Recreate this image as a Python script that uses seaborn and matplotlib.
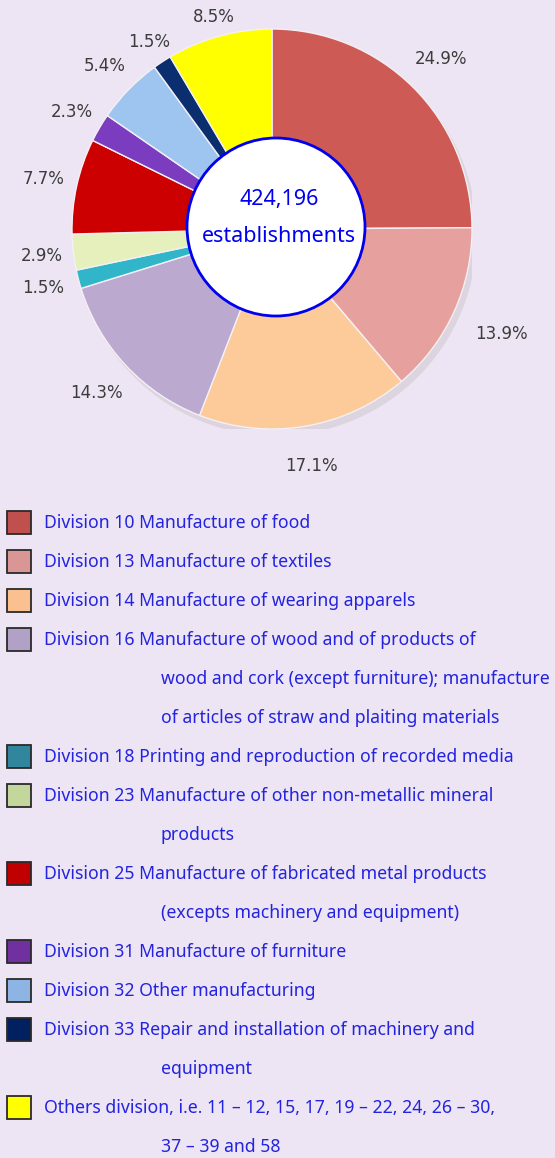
import matplotlib
matplotlib.use("Agg")
import matplotlib.pyplot as plt
from matplotlib.patches import Circle, Rectangle
import numpy as np
import seaborn as sns

# Data
shares = [24.9, 13.9, 17.1, 14.3, 1.5, 2.9, 7.7, 2.3, 5.4, 1.5, 8.5]
pie_colors = ['#CD5A55', '#E6A19E', '#FDCB99', '#BBA9D0', '#31B5C8', '#E6F0BC',
              '#CC0000', '#7B3CC0', '#9EC5F0', '#0A2E6E', '#FFFF00']
legend_colors = ['#C0504D', '#D99694', '#FAC090', '#B2A1C7', '#31859C', '#C3D69B',
                 '#C00000', '#7030A0', '#8EB4E3', '#002060', '#FFFF00']
legend_lines = [
    ["Division 10 Manufacture of food"],
    ["Division 13 Manufacture of textiles"],
    ["Division 14 Manufacture of wearing apparels"],
    ["Division 16 Manufacture of wood and of products of",
     "wood and cork (except furniture); manufacture",
     "of articles of straw and plaiting materials"],
    ["Division 18 Printing and reproduction of recorded media"],
    ["Division 23 Manufacture of other non-metallic mineral",
     "products"],
    ["Division 25 Manufacture of fabricated metal products",
     "(excepts machinery and equipment)"],
    ["Division 31 Manufacture of furniture"],
    ["Division 32 Other manufacturing"],
    ["Division 33 Repair and installation of machinery and",
     "equipment"],
    ["Others division, i.e. 11 \u2013 12, 15, 17, 19 \u2013 22, 24, 26 \u2013 30,",
     "37 \u2013 39 and 58"],
]
total_text = ["424,196", "establishments"]

# label distance from centre (in pie radii), layout only
label_dist = [1.2, 1.26, 1.2, 1.2, 1.18, 1.16, 1.17, 1.16, 1.17, 1.12, 1.1]

bg = '#EDE5F3'
blue = '#2323E0'

sns.set_style('white', {'axes.facecolor': bg, 'figure.facecolor': bg})
plt.rcParams['font.family'] = ['Noto Sans', 'DejaVu Sans']

W, H = 555, 1158
fig = plt.figure(figsize=(W / 100, H / 100), dpi=100)
fig.patch.set_facecolor(bg)

# Pie
cx, cy, r = 272, 229, 200
ax = fig.add_axes([(cx - r) / W, (H - cy - r) / H, 2 * r / W, 2 * r / H])
ax.set_facecolor('none')
ax.add_patch(Circle((0.02, -0.03), 1.0, color='#dcd5e0', zorder=0))
wedges, texts, autotexts = ax.pie(
    shares, colors=pie_colors, startangle=90, counterclock=False,
    autopct='%.1f%%', pctdistance=1.18,
    wedgeprops=dict(edgecolor='#f4f0f4', linewidth=1.0),
    textprops=dict(color='#3c3c3c', fontsize=12, family='DejaVu Sans'))
for w, t, d in zip(wedges, autotexts, label_dist):
    mid = np.deg2rad((w.theta1 + w.theta2) / 2)
    t.set_position((d * np.cos(mid), d * np.sin(mid)))
    t.set_clip_on(False)
ax.add_patch(Circle((0.02, 0.01), 0.445, facecolor='white', edgecolor='#0000EE',
                    linewidth=2.0, zorder=5))
ax.text(0.035, 0.145, total_text[0], ha='center', va='center', color='#0000EE',
        fontsize=15.5, fontweight='semibold', zorder=6)
ax.text(0.035, -0.035, total_text[1], ha='center', va='center', color='#0000EE',
        fontsize=15.5, fontweight='semibold', zorder=6)
ax.set_xlim(-1, 1)
ax.set_ylim(-1, 1)
ax.axis('off')

# Legend
lax = fig.add_axes([0, 0, 1, 1])
lax.set_xlim(0, W)
lax.set_ylim(H, 0)
lax.axis('off')
lax.set_facecolor('none')
y = 523
step = 39
for col, lines in zip(legend_colors, legend_lines):
    lax.add_patch(Rectangle((7, y - 12), 24, 23, facecolor=col,
                            edgecolor='#2a2a2a', linewidth=1.3))
    for i, line in enumerate(lines):
        x = 44 if i == 0 else 161
        lax.text(x, y, line, ha='left', va='center', color=blue, fontsize=12.7)
        y += step

fig.savefig('out.png', dpi=100, facecolor=bg)
